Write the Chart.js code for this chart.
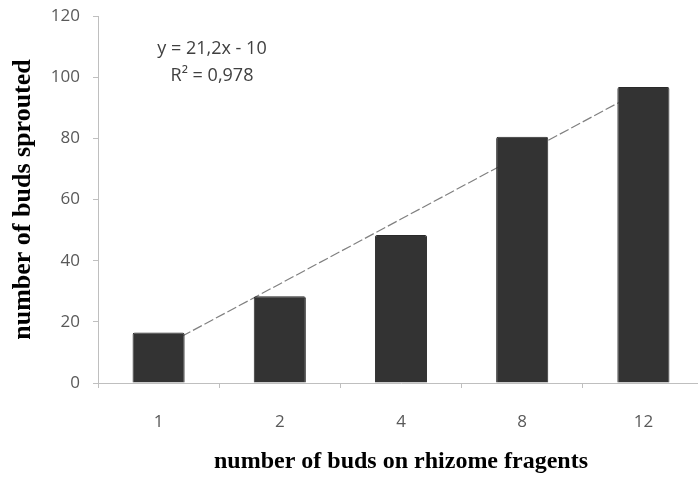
<!DOCTYPE html>
<html>
<head>
<meta charset="utf-8">
<script src="https://cdn.jsdelivr.net/npm/chart.js@4.4.1/dist/chart.umd.min.js"></script>
<style>
  html, body { margin: 0; padding: 0; background: #fff; overflow: hidden; }
  #wrap { width: 704px; height: 480px; position: relative; }
</style>
</head>
<body>
<div id="wrap"><canvas id="myChart"></canvas></div>
<script>
const budCounts = ['1', '2', '4', '8', '12'];
const sprouted = [16.5, 28.4, 48.4, 80.5, 96.8];
// linear trend as printed on the chart (y = 21,2x - 10)
const trend = [11.2, 32.4, 53.6, 74.8, 96];
const yTicks = [0, 20, 40, 60, 80, 100, 120];
const equationLines = ['y = 21,2x - 10', 'R² = 0,978'];

const tickFont = { family: 'Open Sans', size: 17 };

const trendLabel = {
  id: 'trendLabel',
  afterDatasetsDraw(chart) {
    const ctx = chart.ctx;
    ctx.save();
    ctx.fillStyle = '#404040';
    ctx.font = '18px "Open Sans"';
    ctx.textAlign = 'center';
    ctx.textBaseline = 'middle';
    ctx.fillText(equationLines[0], 212, 49);
    ctx.fillText(equationLines[1], 212, 76);
    ctx.restore();
  }
};

const ctx = document.getElementById('myChart').getContext('2d');
new Chart(ctx, {
  data: {
    labels: budCounts,
    datasets: [
      {
        type: 'bar',
        data: sprouted,
        backgroundColor: '#333333',
        borderColor: '#2a2a2a',
        borderWidth: 1,
        borderRadius: 2,
        barPercentage: 0.86,
        categoryPercentage: 0.5,
        order: 1,
      },
      {
        type: 'line',
        data: trend,
        borderColor: '#808080',
        borderWidth: 1.2,
        borderDash: [10, 3],
        pointRadius: 0,
        fill: false,
        order: 2,
      },
    ],
  },
  options: {
    responsive: true,
    maintainAspectRatio: false,
    animation: false,
    layout: { padding: { top: 16, right: 0, left: 0, bottom: 0 } },
    plugins: {
      legend: { display: false },
      tooltip: { enabled: false },
    },
    scales: {
      x: {
        offset: true,
        grid: { drawOnChartArea: false, tickLength: 5, color: '#bfbfbf', offset: true },
        border: { color: '#bfbfbf' },
        ticks: { color: '#595959', font: tickFont, padding: 24 },
        title: {
          display: true,
          text: 'number of buds on rhizome fragents',
          color: '#000',
          font: { family: 'Liberation Serif', size: 24, weight: 'bold' },
          padding: { top: 0, bottom: 4 },
        },
        afterFit(scale) { scale.height = 97; },
      },
      y: {
        min: 0,
        max: 120,
        afterBuildTicks(scale) { scale.ticks = yTicks.map(v => ({ value: v })); },
        grid: { drawOnChartArea: false, tickLength: 5, color: '#bfbfbf' },
        border: { color: '#bfbfbf' },
        ticks: { color: '#595959', font: tickFont, padding: 13 },
        title: {
          display: true,
          text: 'number of buds sprouted',
          color: '#000',
          font: { family: 'Liberation Serif', size: 26, weight: 'bold' },
          padding: { top: 8, bottom: 0 },
        },
        afterFit(scale) {
          scale.width = 98;
          scale.paddingTop = 0;
          scale.paddingBottom = 0;
        },
      },
    },
  },
  plugins: [trendLabel],
});
</script>
</body>
</html>
